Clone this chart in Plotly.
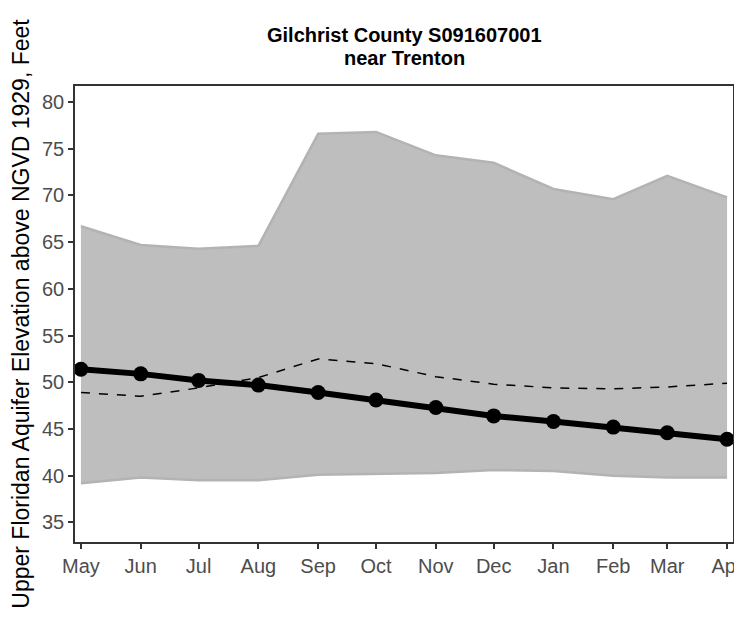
import plotly.graph_objects as go

months = ["2018-05-01", "2018-06-01", "2018-07-01", "2018-08-01", "2018-09-01", "2018-10-01",
          "2018-11-01", "2018-12-01", "2019-01-01", "2019-02-01", "2019-03-01", "2019-04-01"]
max_vals = [66.7, 64.7, 64.3, 64.6, 76.6, 76.8, 74.3, 73.5, 70.7, 69.6, 72.1, 69.8]
min_vals = [39.2, 39.8, 39.5, 39.5, 40.1, 40.2, 40.3, 40.6, 40.5, 40.0, 39.8, 39.8]
median_vals = [48.9, 48.5, 49.4, 50.5, 52.5, 52.0, 50.6, 49.8, 49.4, 49.3, 49.5, 49.9]
current_vals = [51.4, 50.9, 50.2, 49.7, 48.9, 48.1, 47.3, 46.4, 45.8, 45.2, 44.6, 43.9]
y_ticks = [35, 40, 45, 50, 55, 60, 65, 70, 75, 80]
title_lines = ["Gilchrist County S091607001", "near Trenton"]

# page body has an 8px offset; figure coords = screen coords - 8
OFF = 8
W, H = 742 - OFF, 623 - OFF
L, R, T, B = 75 - OFF, 733 - OFF, 86 - OFF, 542 - OFF

fig = go.Figure()
fig.add_trace(go.Scatter(x=months, y=min_vals, mode="lines",
                         line=dict(color="#b3b3b3", width=2.5), showlegend=False, hoverinfo="skip"))
fig.add_trace(go.Scatter(x=months, y=max_vals, mode="lines", fill="tonexty",
                         fillcolor="#bebebe", line=dict(color="#b3b3b3", width=2.5),
                         showlegend=False, hoverinfo="skip"))
fig.add_trace(go.Scatter(x=months, y=median_vals, mode="lines",
                         line=dict(color="black", width=1.5, dash="dash"), showlegend=False))
fig.add_trace(go.Scatter(x=months, y=current_vals, mode="lines+markers",
                         line=dict(color="black", width=6),
                         marker=dict(color="black", size=15), showlegend=False))

def py(p):
    return (B - (p - OFF)) / (B - T)

for txt, ypix in zip(title_lines, [35, 58]):
    fig.add_annotation(text="<b>" + txt + "</b>", xref="paper", yref="paper",
                       x=0.5, y=py(ypix), xanchor="center", yanchor="middle",
                       showarrow=False, font=dict(size=20, color="black"))

fig.update_layout(
    width=W, height=H,
    margin=dict(l=L, r=W - R, t=T, b=H - B),
    paper_bgcolor="white", plot_bgcolor="white",
    font=dict(family="Liberation Sans, Arial, sans-serif"),
)
fig.update_xaxes(
    type="date", range=["2018-04-27 22:00", "2019-04-04 02:00"],
    tickvals=months, tickformat="%b", automargin=False, ticklabeloverflow="allow",
    showgrid=False, zeroline=False,
    showline=True, linecolor="#333333", linewidth=1.5, mirror=True,
    ticks="outside", ticklen=5, tickwidth=1.5, tickcolor="#333333",
    tickfont=dict(size=20, color="#4d4d4d"),
)
fig.update_yaxes(
    range=[32.9, 81.72], tickvals=y_ticks, automargin=False,
    showgrid=False, zeroline=False,
    showline=True, linecolor="#333333", linewidth=1.5, mirror=True,
    ticks="outside", ticklen=5, tickwidth=1.5, tickcolor="#333333",
    tickfont=dict(size=20, color="#4d4d4d"),
    title=dict(text="Upper Floridan Aquifer Elevation above NGVD 1929, Feet",
               font=dict(size=23, color="black"), standoff=10),
)

fig.write_html("out.html")
